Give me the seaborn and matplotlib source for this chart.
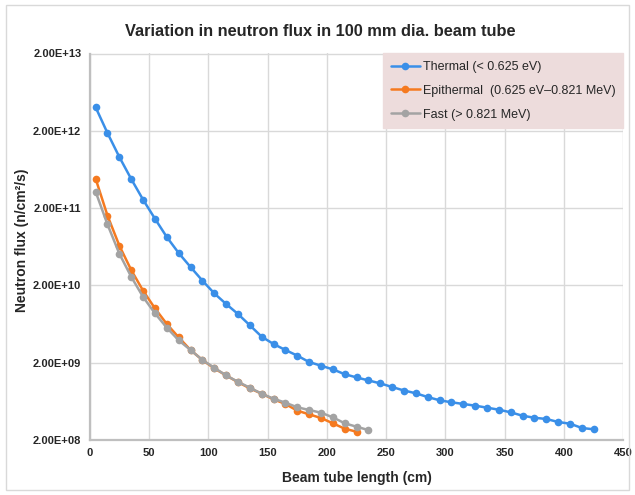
import numpy as np
import pandas as pd
import matplotlib
matplotlib.use("Agg")
import matplotlib.pyplot as plt
import matplotlib.patches as mpatches
from matplotlib.ticker import FixedLocator, NullLocator
import seaborn as sns

# ---- data ----
thermal_x = list(range(5, 426, 10))
thermal_y = [4.03e12, 1.87e12, 9.16e11, 4.76e11, 2.57e11, 1.46e11, 8.45e10, 5.25e10,
             3.46e10, 2.31e10, 1.58e10, 1.15e10, 8.54e9, 6.10e9, 4.34e9, 3.49e9,
             2.92e9, 2.47e9, 2.04e9, 1.83e9, 1.64e9, 1.42e9, 1.29e9, 1.18e9, 1.08e9,
             9.70e8, 8.73e8, 8.04e8, 7.19e8, 6.53e8, 6.15e8, 5.85e8, 5.56e8, 5.24e8,
             4.93e8, 4.56e8, 4.12e8, 3.88e8, 3.74e8, 3.42e8, 3.25e8, 2.86e8, 2.75e8]

epi_x = list(range(5, 226, 10))
epi_y = [4.80e11, 1.60e11, 6.53e10, 3.16e10, 1.71e10, 1.01e10, 6.34e9, 4.26e9,
         2.92e9, 2.17e9, 1.69e9, 1.37e9, 1.12e9, 9.33e8, 7.94e8, 6.73e8, 5.85e8,
         4.79e8, 4.30e8, 3.85e8, 3.29e8, 2.80e8, 2.56e8]

fast_x = list(range(5, 236, 10))
fast_y = [3.26e11, 1.23e11, 5.14e10, 2.59e10, 1.42e10, 8.71e9, 5.68e9, 3.90e9,
          2.92e9, 2.17e9, 1.72e9, 1.37e9, 1.13e9, 9.50e8, 7.94e8, 6.84e8, 6.08e8,
          5.30e8, 4.89e8, 4.51e8, 3.93e8, 3.29e8, 2.97e8, 2.69e8]

series_names = ["Thermal (< 0.625 eV)",
                "Epithermal  (0.625 eV\u20130.821 MeV)",
                "Fast (> 0.821 MeV)"]
series_colors = ["#3A8FE8", "#F57A20", "#A3A3A3"]

y_ticks = [2e8, 2e9, 2e10, 2e11, 2e12, 2e13]
y_tick_labels = ["2.00E+08", "2.00E+09", "2.00E+10", "2.00E+11", "2.00E+12", "2.00E+13"]
x_ticks = [0, 50, 100, 150, 200, 250, 300, 350, 400, 450]

df = pd.concat([
    pd.DataFrame({"x": thermal_x, "y": thermal_y, "s": series_names[0]}),
    pd.DataFrame({"x": epi_x, "y": epi_y, "s": series_names[1]}),
    pd.DataFrame({"x": fast_x, "y": fast_y, "s": series_names[2]}),
])

sns.set_theme(style="white")
plt.rcParams["font.family"] = ["Liberation Sans", "DejaVu Sans"]

fig = plt.figure(figsize=(6.35, 4.95), dpi=100)
W, H = 635, 495
l, r, t, b = 89.7, 623.4, 53.5, 440
ax = fig.add_axes([l / W, 1 - b / H, (r - l) / W, (b - t) / H])

for name, col in zip(series_names, series_colors):
    sub = df[df["s"] == name]
    sns.lineplot(data=sub, x="x", y="y", ax=ax, color=col, linewidth=1.8,
                 marker="o", markersize=5.5, markeredgewidth=0, label=name,
                 zorder=3)

ax.set_yscale("log")
ax.set_ylim(2e8, 2e13)
ax.set_xlim(0, 450)
ax.yaxis.set_major_locator(FixedLocator(y_ticks))
ax.yaxis.set_minor_locator(NullLocator())
ax.set_yticklabels(y_tick_labels)
ax.set_xticks(x_ticks)
ax.set_xticklabels([str(v) for v in x_ticks])
ax.tick_params(axis="both", length=0, labelsize=8, pad=6, colors="#262626")
for lab in ax.get_xticklabels() + ax.get_yticklabels():
    lab.set_fontweight("bold")

ax.grid(True, color="#D9D9D9", linewidth=1)
for s in ["top", "right"]:
    ax.spines[s].set_visible(False)
for s in ["left", "bottom"]:
    ax.spines[s].set_color("#BFBFBF")
    ax.spines[s].set_linewidth(1.6)

ax.set_xlabel("Beam tube length (cm)", fontsize=10, fontweight="bold", labelpad=9)
ax.set_ylabel("")
fig.text(22 / W, 1 - 240 / H, "Neutron flux (n/cm\u00b2/s)", rotation=90,
         ha="center", va="center", fontsize=10, fontweight="bold")
fig.text(320 / W, 1 - 31 / H, "Variation in neutron flux in 100 mm dia. beam tube",
         ha="center", va="center", fontsize=11.8, fontweight="bold")

leg = ax.legend(loc="upper right", bbox_to_anchor=(1.0, 1.0), borderaxespad=0,
                fontsize=9, frameon=True, fancybox=False, labelspacing=0.95,
                handlelength=2.3, handletextpad=0.3, borderpad=0.6)
leg.get_frame().set_facecolor("#EDDCDC")
leg.get_frame().set_edgecolor("#EDDCDC")
leg.get_frame().set_alpha(1)

fig.patches.append(mpatches.Rectangle((6 / W, 5 / H), 623 / W, 485 / H,
                                      transform=fig.transFigure, fill=False,
                                      edgecolor="#D9D9D9", linewidth=1))

fig.savefig("out.png", dpi=100)
